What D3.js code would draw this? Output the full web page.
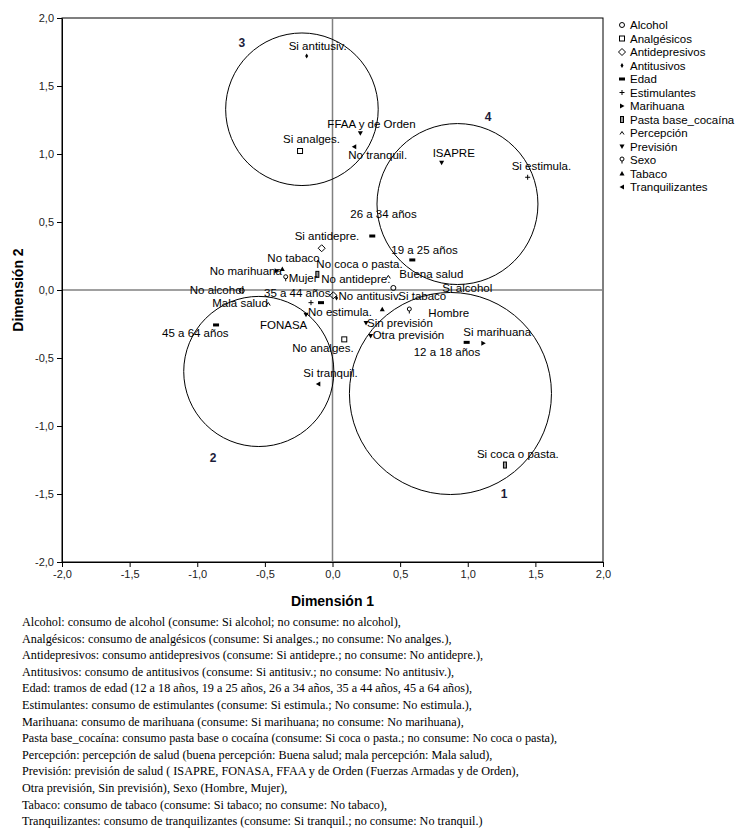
<!DOCTYPE html>
<html>
<head>
<meta charset="utf-8">
<script src="https://cdn.jsdelivr.net/npm/d3@7"></script>
<style>
  body { margin: 0; background: #fff; }
  text { font-family: "Liberation Sans", Arial, sans-serif; }
  text.note { font-family: "Liberation Serif", "DejaVu Serif", serif; }
</style>
</head>
<body>
<svg id="chart"></svg>
<script>
// categories (legend order)
let categories = ["Alcohol","Analgésicos","Antidepresivos","Antitusivos","Edad","Estimulantes","Marihuana","Pasta base_cocaína","Percepción","Previsión","Sexo","Tabaco","Tranquilizantes"]

// points: label, category index, dimension 1, dimension 2
let pointLabels = ["Si alcohol","No alcohol","Si analges.","No analges.","Si antidepre.","No antidepre.","Si antitusiv.","No antitusiv.",
    "12 a 18 años","19 a 25 años","26 a 34 años","35 a 44 años","45 a 64 años","Si estimula.","No estimula.",
    "Si marihuana","No marihuana","Si coca o pasta.","No coca o pasta.","Buena salud","Mala salud",
    "ISAPRE","FONASA","FFAA y de Orden","Otra previsión","Sin previsión","Hombre","Mujer",
    "Si tabaco","No tabaco","Si tranquil.","No tranquil."]
let pointCategory = [0,0,1,1,2,2,3,3,4,4,4,4,4,5,5,6,6,7,7,8,8,9,9,9,9,9,10,10,11,11,12,12]
let dim1 = [0.450,-0.671,-0.240,0.087,-0.080,0.006,-0.191,0.030,
    0.992,0.590,0.294,-0.085,-0.861,1.443,-0.159,
    1.115,-0.413,1.275,-0.112,0.413,-0.475,
    0.807,-0.196,0.206,0.282,0.248,0.568,-0.346,
    0.368,-0.371,-0.105,0.161]
let dim2 = [0.015,-0.005,1.022,-0.363,0.307,-0.039,1.721,-0.059,
    -0.385,0.221,0.397,-0.093,-0.257,0.829,-0.093,
    -0.392,0.142,-1.287,0.115,0.096,-0.103,
    0.936,-0.182,1.152,-0.338,-0.243,-0.147,0.090,
    -0.142,0.154,-0.691,1.054]

// label placement relative to its point (px), like SPSS puts them
let labelOffset = [[49,4],[-52,3],[-17,-8],[-52,13],[-27,-8],[-12,-12],[-18,-6],[2,2],
    [-53,14],[-21,-6],[-22,-18],[-57,-6],[-54,12],[-16,-7],[-3,13],
    [-20,-7],[-67,4],[-28,-7],[-1,-6],[11,1],[-56,3],
    [-9,-6],[-46,14],[-33,-5],[2,3],[1,4],[19,7],[3,4],
    [16,-9],[-15,-7],[-15,-7],[-6,12]]

// cluster circles
let clusterNames = ["1","2","3","4"]
let clusterX = [0.872,-0.545,-0.226,0.924]
let clusterY = [-0.761,-0.599,1.329,0.632]
let clusterR = [0.747,0.555,0.564,0.595]
let clusterLabelX = [1.268,-0.883,-0.670,1.150]
let clusterLabelY = [-1.500,-1.237,1.814,1.272]

let ticks = [-2,-1.5,-1,-0.5,0,0.5,1,1.5,2]

let notes = [
  "Alcohol: consumo de alcohol (consume: Si alcohol; no consume: no alcohol),",
  "Analgésicos: consumo de analgésicos (consume: Si analges.; no consume: No analges.),",
  "Antidepresivos: consumo antidepresivos (consume: Si antidepre.; no consume: No antidepre.),",
  "Antitusivos: consumo de antitusivos (consume: Si antitusiv.; no consume: No antitusiv.),",
  "Edad: tramos de edad (12 a 18 años, 19 a 25 años, 26 a 34 años, 35 a 44 años, 45 a 64 años),",
  "Estimulantes: consumo de estimulantes (consume: Si estimula.; No consume: No estimula.),",
  "Marihuana: consumo de marihuana (consume: Si marihuana; no consume: No marihuana),",
  "Pasta base_cocaína: consumo pasta base o cocaína (consume: Si coca o pasta.; no consume: No coca o pasta),",
  "Percepción: percepción de salud (buena percepción: Buena salud; mala percepción: Mala salud),",
  "Previsión: previsión de salud ( ISAPRE, FONASA, FFAA y de Orden (Fuerzas Armadas y de Orden),",
  "Otra previsión, Sin previsión), Sexo (Hombre, Mujer),",
  "Tabaco: consumo de tabaco (consume: Si tabaco; no consume: No tabaco),",
  "Tranquilizantes: consumo de tranquilizantes (consume: Si tranquil.; no consume: No tranquil.)"
]

let svg = d3.select('#chart')
    .attr('width', 739)
    .attr('height', 835)

let x = d3.scaleLinear().domain([-2, 2]).range([62, 603])
let y = d3.scaleLinear().domain([-2, 2]).range([562, 18])

// marker shapes, one per category
function marker(g, c) {
    let s = "#000"
    if (c == 0) g.append("circle").attr("r", 2.5).attr("fill", "none").attr("stroke", s)
    if (c == 1) g.append("rect").attr("x", -2.5).attr("y", -2.5).attr("width", 5).attr("height", 5).attr("fill", "none").attr("stroke", s)
    if (c == 2) g.append("path").attr("d", "M0,-3.5L3.5,0L0,3.5L-3.5,0Z").attr("fill", "none").attr("stroke", s)
    if (c == 3) g.append("path").attr("d", "M0,-2.5L1.5,0L0,2.5L-1.5,0Z").attr("fill", s)
    if (c == 4) g.append("rect").attr("x", -3).attr("y", -1.5).attr("width", 6).attr("height", 3).attr("fill", s)
    if (c == 5) g.append("path").attr("d", "M-2.5,0H2.5M0,-2.5V2.5").attr("stroke", s)
    if (c == 6) g.append("path").attr("d", "M-2,-2.5L2.5,0L-2,2.5Z").attr("fill", s)
    if (c == 7) g.append("rect").attr("x", -1.5).attr("y", -3).attr("width", 3).attr("height", 6).attr("fill", "#999").attr("stroke", s)
    if (c == 8) g.append("path").attr("d", "M-2,1.5L0,-1.5L2,1.5").attr("fill", "none").attr("stroke", s)
    if (c == 9) g.append("path").attr("d", "M-2.5,-2L2.5,-2L0,2.5Z").attr("fill", s)
    if (c == 10) {
        g.append("circle").attr("cy", -1).attr("r", 2).attr("fill", "none").attr("stroke", s)
        g.append("path").attr("d", "M0,1V3.5").attr("stroke", s)
    }
    if (c == 11) g.append("path").attr("d", "M-2.5,2L2.5,2L0,-2.5Z").attr("fill", s)
    if (c == 12) g.append("path").attr("d", "M2,-2.5L-2.5,0L2,2.5Z").attr("fill", s)
}

// frame
svg.append("rect")
    .attr("x", x(-2)).attr("y", y(2))
    .attr("width", x(2) - x(-2)).attr("height", y(-2) - y(2))
    .attr("fill", "none").attr("stroke", "#000").attr("stroke-width", 1)

// reference lines at 0
svg.append("line").attr("x1", x(0)).attr("x2", x(0)).attr("y1", y(2)).attr("y2", y(-2))
    .attr("stroke", "#808080").attr("stroke-width", 1.5)
svg.append("line").attr("x1", x(-2)).attr("x2", x(2)).attr("y1", y(0)).attr("y2", y(0))
    .attr("stroke", "#808080").attr("stroke-width", 1.5)

let fmt = function(d){ return d3.format(".1f")(d).replace(".", ",").replace("−", "-") }

let xAxis = svg.append("g")
    .attr("transform", "translate(0," + y(-2) + ")")
    .call(d3.axisBottom(x).tickValues(ticks).tickFormat(fmt).tickSize(5).tickSizeOuter(0))
let yAxis = svg.append("g")
    .attr("transform", "translate(" + x(-2) + ",0)")
    .call(d3.axisLeft(y).tickValues(ticks).tickFormat(fmt).tickSize(5).tickSizeOuter(0))
xAxis.selectAll("text").attr("font-size", 11).attr("fill", "#222")
yAxis.selectAll("text").attr("font-size", 11).attr("fill", "#222")
svg.selectAll(".domain").attr("stroke", "#000")

svg.append("text").attr("x", x(0)).attr("y", 606).attr("text-anchor", "middle")
    .attr("font-size", 14).attr("font-weight", "bold").text("Dimensión 1")
svg.append("text").attr("transform", "translate(23," + y(0) + ") rotate(-90)").attr("text-anchor", "middle")
    .attr("font-size", 14).attr("font-weight", "bold").text("Dimensión 2")

// circles
svg.selectAll(".cluster")
    .data(clusterNames)
    .enter()
    .append("circle")
    .attr("class", "cluster")
    .attr("cx", function(d, i){ return x(clusterX[i]) })
    .attr("cy", function(d, i){ return y(clusterY[i]) })
    .attr("r", function(d, i){ return x(clusterR[i]) - x(0) })
    .attr("fill", "none").attr("stroke", "#000").attr("stroke-width", 1)

svg.selectAll(".clusterLabel")
    .data(clusterNames)
    .enter()
    .append("text")
    .attr("class", "clusterLabel")
    .attr("x", function(d, i){ return x(clusterLabelX[i]) })
    .attr("y", function(d, i){ return y(clusterLabelY[i]) + 4 })
    .attr("text-anchor", "middle")
    .attr("font-size", 12).attr("font-weight", "bold").attr("fill", "#1c1c3a")
    .text(function(d){ return d })

// points
let pts = svg.selectAll(".pt")
    .data(pointLabels)
    .enter()
    .append("g")
    .attr("class", "pt")
    .attr("transform", function(d, i){ return "translate(" + x(dim1[i]) + "," + y(dim2[i]) + ")" })

pts.each(function(d, i){ marker(d3.select(this), pointCategory[i]) })

pts.append("text")
    .attr("x", function(d, i){ return labelOffset[i][0] })
    .attr("y", function(d, i){ return labelOffset[i][1] })
    .attr("font-size", 11.5)
    .text(function(d){ return d })

// legend
let leg = svg.selectAll(".leg")
    .data(categories)
    .enter()
    .append("g")
    .attr("class", "leg")
    .attr("transform", function(d, i){ return "translate(622," + (25 + i * 13.5) + ")" })
leg.each(function(d, i){ marker(d3.select(this), i) })
leg.append("text").attr("x", 8).attr("y", 4).attr("font-size", 11.5).text(function(d){ return d })

// notes under the chart
svg.selectAll(".note")
    .data(notes)
    .enter()
    .append("text")
    .attr("class", "note")
    .attr("x", 22)
    .attr("y", function(d, i){ return 626 + i * 16.6 })
    .attr("font-size", 12.2)
    .text(function(d){ return d })
</script>
</body>
</html>
